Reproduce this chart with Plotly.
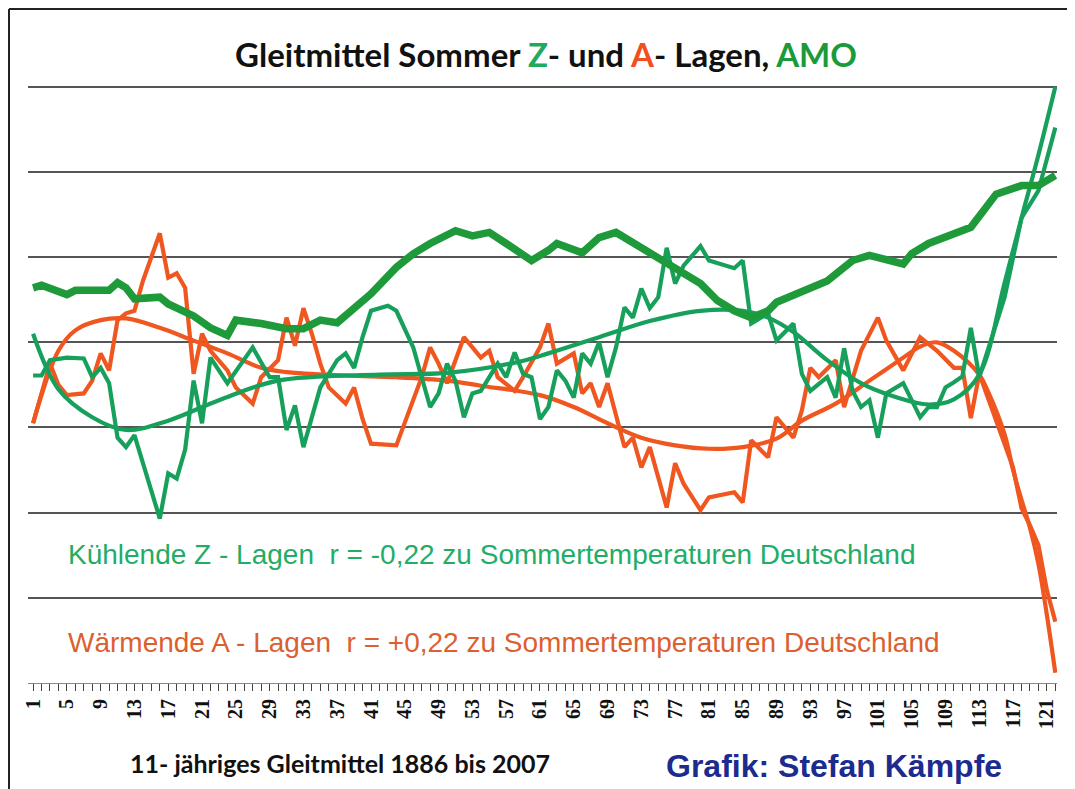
import plotly.graph_objects as go

# ---------------- data (y in grid units, 0..7) ----------------
amo_x = [1, 2, 5, 6, 10, 11, 12, 13, 16, 17, 20, 22, 24, 25, 28, 31, 33, 35, 37, 39,
         41, 44, 46, 48, 51, 53, 55, 57, 60, 62, 63, 66, 68, 70, 73, 74, 77, 80, 82, 84,
         86, 88, 89, 93, 95, 98, 100, 104, 105, 107, 110, 112, 115, 118, 120, 122]
amo_v = [4.64, 4.67, 4.56, 4.61, 4.61, 4.70, 4.64, 4.51, 4.53, 4.45, 4.31, 4.17, 4.08, 4.26, 4.22,
         4.16, 4.16, 4.26, 4.23, 4.41, 4.57, 4.88, 5.04, 5.16, 5.31, 5.25, 5.29, 5.16, 4.96, 5.08,
         5.16, 5.05, 5.23, 5.29, 5.11, 5.04, 4.88, 4.69, 4.49, 4.37, 4.29, 4.37, 4.47, 4.64, 4.72,
         4.96, 5.02, 4.92, 5.04, 5.16, 5.28, 5.35, 5.74, 5.84, 5.84, 5.96]

z_x = [1, 2, 3, 5, 7, 8, 9, 10, 11, 12, 13, 16, 17, 18, 19, 20, 21, 22, 24, 27,
       29, 30, 31, 32, 33, 34, 35, 37, 38, 39, 40, 41, 43, 44, 46, 47, 48, 49, 50, 51,
       52, 53, 54, 56, 57, 58, 59, 60, 61, 62, 63, 64, 65, 66, 67, 68, 69, 70, 71, 72,
       73, 74, 75, 76, 77, 78, 80, 81, 84, 85, 86, 88, 89, 91, 92, 93, 95, 96, 97, 98,
       99, 100, 101, 102, 104, 106, 107, 108, 109, 110, 111, 112, 113, 116, 118, 120, 122]
z_v = [3.61, 3.61, 3.79, 3.82, 3.81, 3.59, 3.70, 3.52, 2.88, 2.77, 2.91, 1.93, 2.46, 2.40, 2.74,
       3.55, 3.05, 3.82, 3.52, 3.94, 3.59, 3.59, 2.97, 3.26, 2.77, 3.12, 3.47, 3.79, 3.87, 3.70,
       4.06, 4.37, 4.43, 4.37, 3.94, 3.59, 3.24, 3.40, 3.75, 3.55, 3.12, 3.40, 3.43, 3.75, 3.59,
       3.88, 3.63, 3.59, 3.10, 3.24, 3.67, 3.55, 3.35, 3.87, 3.75, 4.00, 3.59, 3.94, 4.41, 4.29,
       4.63, 4.40, 4.53, 5.11, 4.69, 4.90, 5.13, 4.96, 4.87, 4.96, 4.22, 4.34, 4.02, 4.22, 3.63,
       3.43, 3.59, 3.35, 3.93, 3.43, 3.24, 3.32, 2.88, 3.40, 3.52, 3.12, 3.24, 3.24, 3.47, 3.53,
       3.60, 4.17, 3.59, 4.53, 5.46, 5.78, 6.52]

a_x = [1, 3, 4, 5, 7, 8, 9, 10, 11, 12, 13, 14, 16, 17, 18, 19, 20, 21, 22, 24,
       25, 27, 28, 30, 31, 32, 33, 34, 35, 36, 38, 39, 40, 41, 44, 47, 48, 49, 50, 52,
       54, 55, 56, 58, 59, 61, 62, 63, 65, 66, 67, 68, 69, 70, 71, 72, 73, 74, 76, 77,
       78, 80, 81, 84, 85, 86, 88, 89, 91, 92, 93, 94, 96, 97, 99, 101, 102, 104, 106, 108,
       110, 111, 112, 113, 115, 117, 118, 119, 120, 121, 122]
a_v = [3.05, 3.75, 3.50, 3.38, 3.40, 3.55, 3.87, 3.67, 4.26, 4.34, 4.37, 4.72, 5.28, 4.76, 4.81,
       4.64, 3.63, 4.10, 3.90, 3.67, 3.47, 3.28, 3.59, 3.79, 4.29, 3.96, 4.40, 4.10, 3.75, 3.47,
       3.28, 3.47, 3.10, 2.81, 2.79, 3.59, 3.94, 3.75, 3.52, 4.06, 3.82, 3.90, 3.59, 3.43, 3.59,
       3.94, 4.22, 3.75, 3.87, 3.40, 3.52, 3.24, 3.52, 3.12, 2.77, 2.88, 2.53, 2.77, 2.06, 2.58,
       2.34, 2.03, 2.18, 2.24, 2.12, 2.85, 2.65, 3.12, 2.88, 3.20, 3.70, 3.59, 3.79, 3.24, 3.90,
       4.29, 4.02, 3.67, 4.06, 3.90, 3.70, 3.70, 3.11, 3.63, 3.08, 2.53, 2.05, 1.85, 1.62, 1.09,
       0.72]

z_trend_x = [1, 4, 8, 12, 17, 23, 30, 42, 50, 58, 62, 68, 74, 80, 85, 88, 91, 95, 99, 103,
             107, 110, 113, 116, 118, 120, 122]
z_trend_v = [4.10, 3.45, 3.12, 2.97, 3.08, 3.32, 3.55, 3.62, 3.64, 3.76, 3.87, 4.06, 4.25, 4.37,
             4.37, 4.29, 4.12, 3.79, 3.52, 3.36, 3.27, 3.33, 3.62, 4.70, 5.46, 6.20, 7.00]

a_trend_x = [1, 4, 6, 9, 12, 16, 20, 24, 28, 31, 38, 44, 50, 54, 61, 65, 69, 73, 77, 81,
             85, 89, 92, 96, 100, 104, 106, 108, 110, 113, 114, 116, 117, 118, 119, 120, 121, 122]
a_trend_v = [3.05, 3.90, 4.14, 4.26, 4.28, 4.17, 4.02, 3.87, 3.70, 3.65, 3.61, 3.59, 3.55, 3.49,
             3.38, 3.24, 3.05, 2.88, 2.79, 2.75, 2.77, 2.87, 3.08, 3.28, 3.55, 3.82, 3.95, 4.00,
             3.90, 3.62, 3.43, 2.92, 2.50, 2.15, 1.82, 1.40, 0.80, 0.12]

tick_start, tick_step = 1, 4
grid_levels = [1, 2, 3, 4, 5, 6, 7]

title_parts = [("Gleitmittel Sommer ", "#111111"), ("Z", "#1FAA5E"), ("- und ", "#111111"),
               ("A", "#F0501E"), ("- Lagen, ", "#111111"), ("AMO", "#1A9A3A")]
text_z = "Kühlende Z - Lagen  r = -0,22 zu Sommertemperaturen Deutschland"
text_a = "Wärmende A - Lagen  r = +0,22 zu Sommertemperaturen Deutschland"
text_span = "11- jähriges Gleitmittel 1886 bis 2007"
text_credit = "Grafik: Stefan Kämpfe"

# ---------------- styling ----------------
OFF = 8                       # page body margin of the browser
W, H = 1075 - OFF, 789 - OFF  # figure size so it fits the window
PLOT_L, PLOT_R, PLOT_T, PLOT_B = 28, 1057, 74, 683   # wanted page pixels of the plot area
ML = PLOT_L - OFF
MT = PLOT_T - OFF
MR = (W + OFF) - PLOT_R
MB = (H + OFF) - PLOT_B
PW, PH = W - ML - MR, H - MT - MB
C_AMO = "#1E9A3A"
C_Z = "#17A05C"
C_A = "#F0561F"


def px_to_paper(px, py):
    return (px - PLOT_L) / PW, (PLOT_B - py) / PH


fig = go.Figure()
fig.add_trace(go.Scatter(x=a_x, y=a_v, mode="lines", line=dict(color=C_A, width=4.2), hoverinfo="skip"))
fig.add_trace(go.Scatter(x=a_trend_x, y=a_trend_v, mode="lines", line=dict(color=C_A, width=4.2, shape="spline"), hoverinfo="skip"))
fig.add_trace(go.Scatter(x=z_x, y=z_v, mode="lines", line=dict(color=C_Z, width=4.2), hoverinfo="skip"))
fig.add_trace(go.Scatter(x=z_trend_x, y=z_trend_v, mode="lines", line=dict(color=C_Z, width=4.2, shape="spline"), hoverinfo="skip"))
fig.add_trace(go.Scatter(x=amo_x, y=amo_v, mode="lines", line=dict(color=C_AMO, width=7.5), hoverinfo="skip"))

title_html = "".join(f"<span style='color:{c}'>{t}</span>" for t, c in title_parts)

fig.update_layout(
    width=W, height=H,
    margin=dict(l=ML, r=MR, t=MT, b=MB, pad=0),
    paper_bgcolor="white", plot_bgcolor="white",
    showlegend=False,
    title=dict(text=title_html, x=(546 - OFF) / W, xref="container", xanchor="center",
               y=1 - (55 - OFF) / H, yref="container", yanchor="middle",
               font=dict(family="Lato", size=33, weight=700, color="#111111")),
    xaxis=dict(range=[0.4, 122.2], tickmode="linear", tick0=tick_start, dtick=tick_step,
               ticks="outside", ticklen=7, tickwidth=1, tickcolor="#444444",
               tickangle=-90, showgrid=False, zeroline=False,
               showline=True, linecolor="#888888", linewidth=1,
               tickfont=dict(family="Liberation Serif", size=20, weight=700, color="#111111"),
               minor=dict(dtick=1, tick0=0, ticks="outside", ticklen=7, tickwidth=1, tickcolor="#444444", showgrid=False),
               fixedrange=True),
    yaxis=dict(range=[0, 7.15], tickmode="array", tickvals=grid_levels, showticklabels=False,
               showgrid=True, gridcolor="#555555", gridwidth=1.5, zeroline=False, showline=False,
               fixedrange=True),
)

fig.add_annotation(x=4.9, y=1.51, xref="x", yref="y", text=text_z, showarrow=False,
                   xanchor="left", yanchor="middle",
                   font=dict(family="Liberation Sans", size=28, color="#22AD66"))
fig.add_annotation(x=4.9, y=0.47, xref="x", yref="y", text=text_a, showarrow=False,
                   xanchor="left", yanchor="middle",
                   font=dict(family="Liberation Sans", size=28, color="#DC5F30"))

bx, by = px_to_paper(340, 763)
fig.add_annotation(x=bx, y=by, xref="paper", yref="paper", text=text_span, showarrow=False,
                   xanchor="center", yanchor="middle",
                   font=dict(family="Lato", size=25, weight=700, color="#111111"))
cx, cy = px_to_paper(834, 766)
fig.add_annotation(x=cx, y=cy, xref="paper", yref="paper", text=text_credit, showarrow=False,
                   xanchor="center", yanchor="middle",
                   font=dict(family="Liberation Sans", size=32, weight=700, color="#1B2C8E"))

# image frame (top and left edges)
lx, ty = px_to_paper(OFF + 1, OFF + 1)
rx, bty = px_to_paper(W + OFF, H + OFF)
fig.add_shape(type="line", xref="paper", yref="paper", x0=lx, x1=rx, y0=ty, y1=ty,
              line=dict(color="#222222", width=2))
fig.add_shape(type="line", xref="paper", yref="paper", x0=lx, x1=lx, y0=ty, y1=bty,
              line=dict(color="#222222", width=2))

fig.write_html("out.html")
